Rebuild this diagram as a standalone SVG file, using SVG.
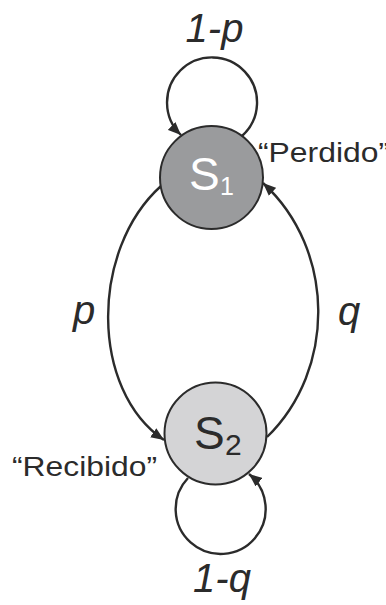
<svg xmlns="http://www.w3.org/2000/svg" width="386" height="605" viewBox="0 0 386 605">
<style>
.edge{fill:none;stroke:#2b2b2b;stroke-width:2.4}
.node{stroke:#2b2b2b;stroke-width:2}
.lbl{font-family:"Liberation Sans",Arial,sans-serif;fill:#2b2b2b}
.wh{fill:#ffffff}
.it{font-style:italic;font-size:40px}
</style>
<defs>
<marker id="ah" viewBox="0 0 13 11" refX="13" refY="5.5" markerWidth="13" markerHeight="11" markerUnits="userSpaceOnUse" orient="auto">
<path d="M0,0 L13,5.5 L0,11 z" fill="#2b2b2b"/>
</marker>
</defs>
<rect width="386" height="605" fill="#fff"/>
<g id="connectors">
<path class="edge" d="M242,136 A45,45 0 1 0 181,135" marker-end="url(#ah)"/>
<path class="edge" d="M188,478 A45,45 0 1 0 249,474" marker-end="url(#ah)"/>
<path class="edge" d="M161,186 C90,250 90,390 164,440" marker-end="url(#ah)"/>
<path class="edge" d="M267,437 C336,370 336,250 263,183" marker-end="url(#ah)"/>
</g>
<g id="S1">
<circle class="node" cx="211.5" cy="177.5" r="51.5" fill="#9a9b9d"/>
<text class="lbl wh" x="189" y="190" font-size="46">S</text>
<text class="lbl wh" x="220" y="195" font-size="25">1</text>
</g>
<g id="S2">
<circle class="node" cx="215.5" cy="433.5" r="51" fill="#d4d4d6"/>
<text class="lbl" x="194" y="449" font-size="46">S</text>
<text class="lbl" x="225" y="455" font-size="30">2</text>
</g>
<g id="labels">
<text class="lbl it" x="214.5" y="42" text-anchor="middle">1-p</text>
<text class="lbl it" x="222" y="592" text-anchor="middle">1-q</text>
<text class="lbl it" x="84" y="324" text-anchor="middle">p</text>
<text class="lbl it" x="349" y="325" text-anchor="middle">q</text>
<text class="lbl" x="258" y="162" font-size="27" textLength="131" lengthAdjust="spacingAndGlyphs">“Perdido”</text>
<text class="lbl" x="12" y="476" font-size="27" textLength="145" lengthAdjust="spacingAndGlyphs">“Recibido”</text>
</g>
</svg>
